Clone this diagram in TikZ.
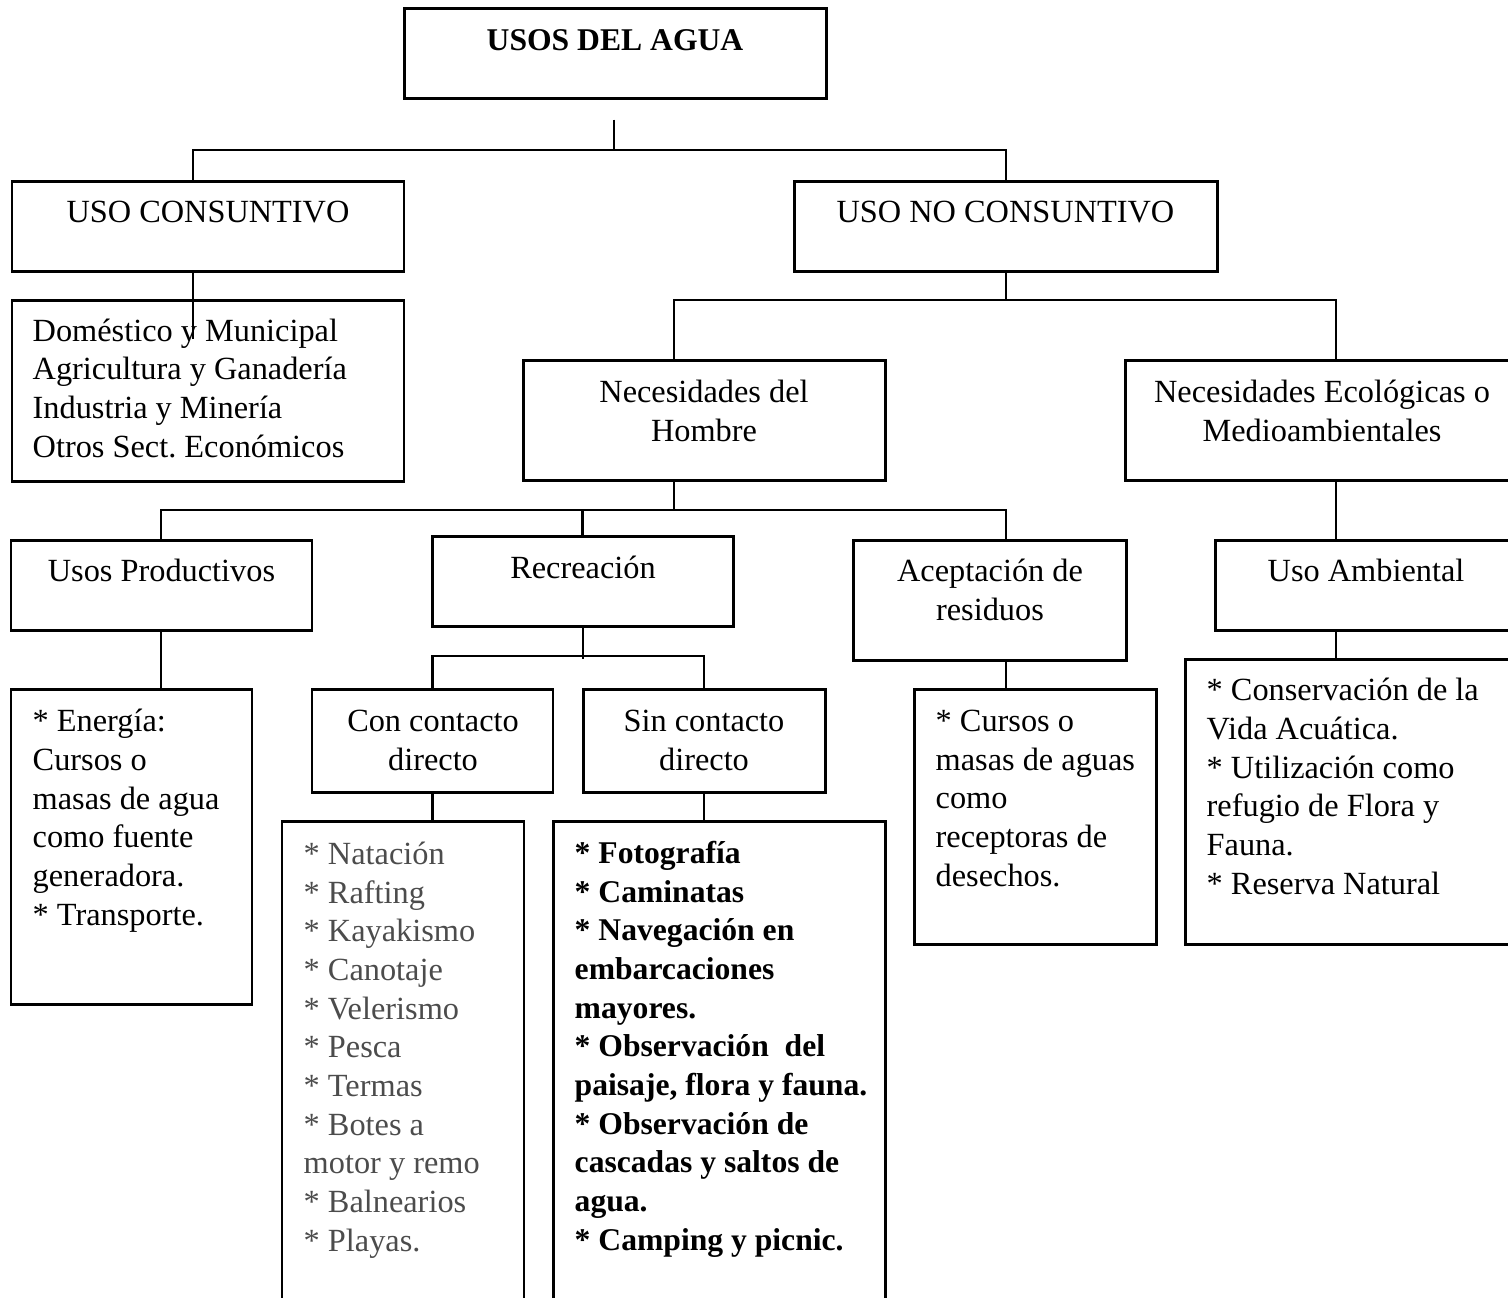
\documentclass[tikz,border=0pt]{standalone}
\usepackage{fontspec}
\setmainfont{Liberation Serif}
\usetikzlibrary{calc}

\tikzset{
  caja/.style={draw, line width=0.85pt, inner sep=0pt},
  texto/.style={anchor=base, inner sep=0pt, align=center, font=\fontsize{9.2}{11}\selectfont},
  lista/.style={texto, anchor=base west, align=left},
  linea/.style={line width=0.7pt},
}

\begin{document}
\begin{tikzpicture}[x=0.1mm, y=-0.1mm]
        \clip (0,0) rectangle (1508,1297);
        % cajas
        \node[caja, minimum width=42.2mm, minimum height=9mm] (agua) at (615,53) {};
        \node[caja, minimum width=39.2mm, minimum height=9mm] (cons) at (208,226) {};
        \node[caja, minimum width=42.3mm, minimum height=9mm] (nocons) at (1005.5,226) {};
        \node[caja, minimum width=39.2mm, minimum height=18.1mm] (dom) at (208,390.5) {};
        \node[caja, minimum width=36.2mm, minimum height=12mm] (hombre) at (704,420) {};
        \node[caja, minimum width=40mm, minimum height=12mm] (eco) at (1325,420) {};
        \node[caja, minimum width=30.1mm, minimum height=9mm] (prod) at (161.5,585) {};
        \node[caja, minimum width=30.1mm, minimum height=9mm] (recr) at (582.5,581) {};
        \node[caja, minimum width=27.3mm, minimum height=12mm] (acep) at (989.5,600) {};
        \node[caja, minimum width=31mm, minimum height=9mm] (amb) at (1370,585) {};
        \node[caja, minimum width=24.1mm, minimum height=10.3mm] (con) at (432.5,740.5) {};
        \node[caja, minimum width=24.2mm, minimum height=10.3mm] (sin) at (704,740.5) {};
        \node[caja, minimum width=24.1mm, minimum height=31.5mm] (prodlist) at (131.5,846.5) {};
        \node[caja, minimum width=24.2mm, minimum height=49.9mm] (conlist) at (403,1070.5) {};
        \node[caja, minimum width=33.2mm, minimum height=49.9mm] (sinlist) at (719,1070.5) {};
        \node[caja, minimum width=24.2mm, minimum height=25.5mm] (aceplist) at (1035,816.5) {};
        \node[caja, minimum width=34mm, minimum height=28.5mm] (amblist) at (1355,801.5) {};

        % textos (base = ultima linea)
        \node[texto, font=\fontsize{9}{11}\selectfont\bfseries] (t-agua) at (615,50) {USOS DEL AGUA};
        \node[texto] (t-cons) at (208,222) {USO CONSUNTIVO};
        \node[texto] (t-nocons) at (1005.5,222) {USO NO CONSUNTIVO};
        \node[lista] (t-dom) at (32,457) {Doméstico y Municipal\\Agricultura y Ganadería\\Industria y Minería\\Otros Sect.\ Económicos};
        \node[texto] (t-hombre) at (704,441) {Necesidades del\\Hombre};
        \node[texto] (t-eco) at (1322,441) {Necesidades Ecológicas o\\Medioambientales};
        \node[texto] (t-prod) at (161.5,581) {Usos Productivos};
        \node[texto] (t-recr) at (583,578) {Recreación};
        \node[texto] (t-acep) at (990,620) {Aceptación de\\residuos};
        \node[texto] (t-amb) at (1366,581) {Uso Ambiental};
        \node[texto] (t-con) at (433,770) {Con contacto\\directo};
        \node[texto] (t-sin) at (704,770) {Sin contacto\\directo};
        \node[lista] (t-prodlist) at (32,925) {* Energía:\\Cursos o\\masas de agua\\como fuente\\generadora.\\* Transporte.};
        \node[lista, text=black!70] (t-conlist) at (303,1251) {* Natación\\* Rafting\\* Kayakismo\\* Canotaje\\* Velerismo\\* Pesca\\* Termas\\* Botes a\\motor y remo\\* Balnearios\\* Playas.};
        \node[lista, font=\fontsize{9}{11}\selectfont\bfseries] (t-sinlist) at (574,1250) {* Fotografía\\* Caminatas\\* Navegación en\\embarcaciones\\mayores.\\* Observación~ del\\paisaje, flora y fauna.\\* Observación de\\cascadas y saltos de\\agua.\\* Camping y picnic.};
        \node[lista] (t-aceplist) at (935,886) {* Cursos o\\masas de aguas\\como\\receptoras de\\desechos.};
        \node[lista] (t-amblist) at (1206,894) {* Conservación de la\\Vida Acuática.\\* Utilización como\\refugio de Flora y\\Fauna.\\* Reserva Natural};

        % lineas
        \coordinate (b0) at (614,150);
        \coordinate (b0w) at (193,150);
        \coordinate (b0e) at (1006,150);
        \draw[linea] ($(agua.south -| b0)+(0,20)$) -- (b0);
        \draw[linea] (b0w |- cons.north) -- (b0w) -- (b0e) -- (b0e |- nocons.north);
        \draw[linea] (cons.south -| b0w) -- ($(dom.north -| b0w)+(0,40)$);

        \coordinate (b1) at (1006,300);
        \coordinate (b1w) at (674,300);
        \coordinate (b1e) at (1336,300);
        \draw[linea] (nocons.south -| b1) -- (b1);
        \draw[linea] (b1w |- hombre.north) -- (b1w) -- (b1e) -- (b1e |- eco.north);
        \draw[linea] (eco.south -| b1e) -- (b1e |- amb.north);
        \draw[linea] (amb.south -| b1e) -- (b1e |- amblist.north);

        \coordinate (b2) at (674,510);
        \coordinate (b2w) at (161,510);
        \coordinate (b2e) at (1006,510);
        \draw[linea] (hombre.south -| b2) -- (b2);
        \draw[linea] (b2w |- prod.north) -- (b2w) -- (b2e) -- (b2e |- acep.north);
        \draw[linea] (recr.north) -- (recr.north |- b2);
        \draw[linea] (prod.south -| b2w) -- (b2w |- prodlist.north);
        \draw[linea] (acep.south -| b2e) -- (b2e |- aceplist.north);

        \coordinate (b3) at (583,656);
        \draw[linea] (recr.south -| b3) -- ($(b3)+(0,3)$);
        \draw[linea] (con.north) -- (con.north |- b3) -- (sin.north |- b3) -- (sin.north);
        \draw[linea] (con.south) -- (con.south |- conlist.north);
        \draw[linea] (sin.south) -- (sin.south |- sinlist.north);
\end{tikzpicture}
\end{document}
